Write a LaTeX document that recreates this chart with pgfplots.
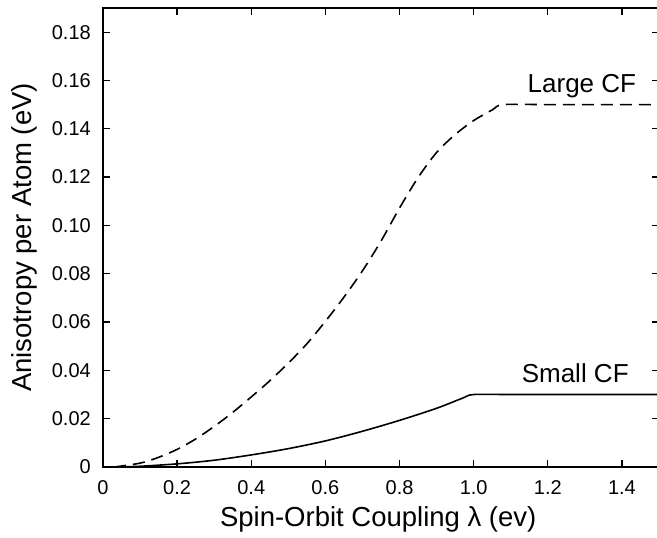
\documentclass[border=0pt]{standalone}
\usepackage{fontspec}
\setmainfont{Liberation Sans}
\usepackage{pgfplots}
\pgfplotsset{compat=1.18}
\usetikzlibrary{calc}

\begin{document}
\begin{tikzpicture}
\begin{axis}[
  name=ax,
  scale only axis,
  width=556pt, height=459pt,
  xmin=0, xmax=1.5, ymin=0, ymax=0.19,
  xtick={0,0.2,0.4,0.6,0.8,1.0,1.2,1.4},
  xticklabels={0,0.2,0.4,0.6,0.8,1.0,1.2,1.4},
  ytick={0,0.02,0.04,0.06,0.08,0.10,0.12,0.14,0.16,0.18},
  yticklabels={0,0.02,0.04,0.06,0.08,0.10,0.12,0.14,0.16,0.18},
  tick align=inside, major tick length=7pt,
  axis line style={line width=1.5pt},
  every tick/.style={black, line width=1.3pt},
  tick label style={font=\fontsize{20}{22}\selectfont, inner sep=0pt},
  xticklabel style={anchor=base, yshift=-28pt},
  yticklabel style={anchor=east, xshift=-12pt},
  xlabel={Spin-Orbit Coupling λ (ev)},
  ylabel={Anisotropy per Atom (eV)},
  label style={font=\fontsize{27.5}{29}\selectfont, inner sep=0pt},
  xlabel style={at={(axis description cs:0.495,-0.1307)}, anchor=base},
  ylabel style={at={(axis description cs:-0.142,0.5)}, anchor=center},
]
% large crystal field (dashed)
\addplot[black, line width=1.6pt, dash pattern=on 12pt off 7pt, smooth, tension=0.5]
  coordinates {
    (0.03,0) (0.1,0.0016) (0.15,0.004) (0.2,0.0073) (0.25,0.0116)
    (0.3,0.0168) (0.35,0.0226) (0.4,0.029) (0.45,0.0357) (0.5,0.043)
    (0.55,0.051) (0.6,0.0603) (0.65,0.0703) (0.7,0.0812) (0.75,0.0935)
    (0.8,0.1072) (0.85,0.1198) (0.9,0.1302) (0.95,0.1376) (1.0,0.1434)
    (1.05,0.1478) (1.08,0.15) (1.2,0.15) (1.35,0.15) (1.5,0.15)
  };
% small crystal field (solid)
\addplot[black, line width=1.6pt, smooth, tension=0.5]
  coordinates {
    (0.03,0) (0.1,0.0003) (0.2,0.0013) (0.3,0.0028) (0.4,0.005)
    (0.5,0.0076) (0.6,0.0108) (0.7,0.0148) (0.8,0.0193) (0.9,0.0243)
    (0.97,0.0285) (1.0,0.03) (1.1,0.03) (1.3,0.03) (1.5,0.03)
  };
\node[font=\fontsize{26}{28}\selectfont, anchor=base, inner sep=0pt]
  at (axis cs:1.292,0.1552) {Large CF};
\node[font=\fontsize{26}{28}\selectfont, anchor=base, inner sep=0pt]
  at (axis cs:1.274,0.0349) {Small CF};
\end{axis}
\pgfresetboundingbox
\path[use as bounding box] ($(ax.south west)+(-103pt,-71pt)$) rectangle ($(ax.north east)+(-2pt,8pt)$);
\end{tikzpicture}
\end{document}
